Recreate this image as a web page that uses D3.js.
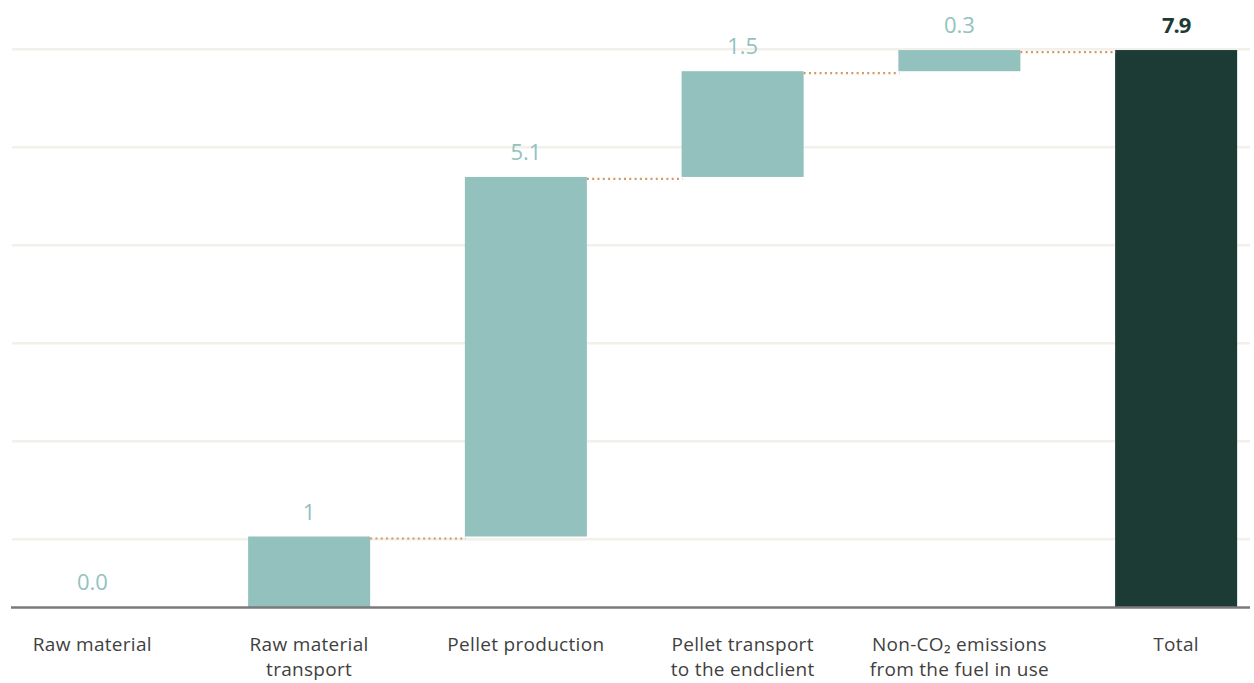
<!DOCTYPE html>
<html>
<head>
<meta charset="utf-8">
<script src="https://cdn.jsdelivr.net/npm/d3@7"></script>
<style>
  body { margin: 0; background: #fff; }
  svg { display: block; }
</style>
</head>
<body>
<svg id="chart" width="1254" height="683"></svg>
<script>
// Waterfall of emission contributions along the pellet supply chain
const categories = [
  "Raw material",
  "Raw material transport",
  "Pellet production",
  "Pellet transport to the endclient",
  "Non-CO₂ emissions from the fuel in use",
  "Total"
];
const categoryLines = [
  ["Raw material"],
  ["Raw material", "transport"],
  ["Pellet production"],
  ["Pellet transport", "to the endclient"],
  ["Non-CO₂ emissions", "from the fuel in use"],
  ["Total"]
];
const steps = [0.0, 1, 5.1, 1.5, 0.3];
const total = 7.9;
const valueLabels = ["0.0", "1", "5.1", "1.5", "0.3", "7.9"];
const gridValues = [0.96, 2.35, 3.74, 5.13, 6.52, 7.91];

const stepColor = "#93c2be";
const totalColor = "#1c3b35";
const fontFamily = "'Open Sans', 'Noto Sans', sans-serif";

const svg = d3.select("#chart");

const x = d3.scaleBand()
  .domain(categories)
  .range([-16, 1284.5])
  .paddingInner(0.437)
  .paddingOuter(0.2185);

const y = d3.scaleLinear()
  .domain([0, 8])
  .range([607, 43]);

// running totals: start and end of each floating bar
const ends = d3.cumsum(steps);
const bars = steps.map((v, i) => ({
  cat: categories[i],
  start: i === 0 ? 0 : ends[i - 1],
  end: ends[i],
  label: valueLabels[i],
  isTotal: false
}));
bars.push({ cat: categories[5], start: 0, end: total, label: valueLabels[5], isTotal: true });

// horizontal gridlines
svg.append("g")
  .selectAll("line")
  .data(gridValues)
  .join("line")
  .attr("x1", 12)
  .attr("x2", 1250)
  .attr("y1", d => y(d))
  .attr("y2", d => y(d))
  .attr("stroke", "#f3efea")
  .attr("stroke-width", 2.5);

// bars
svg.append("g")
  .selectAll("rect")
  .data(bars)
  .join("rect")
  .attr("x", d => x(d.cat))
  .attr("width", x.bandwidth())
  .attr("y", d => y(Math.max(d.start, d.end)))
  .attr("height", d => Math.abs(y(d.start) - y(d.end)))
  .attr("fill", d => d.isTotal ? totalColor : stepColor);

// dotted connectors between consecutive bars
const links = bars.slice(1, -1).map((b, i) => ({ from: b.cat, to: bars[i + 2].cat, level: b.end }));
svg.append("g")
  .selectAll("line")
  .data(links)
  .join("line")
  .attr("x1", d => x(d.from) + x.bandwidth())
  .attr("x2", d => x(d.to) + 1)
  .attr("y1", d => y(d.level) + 2)
  .attr("y2", d => y(d.level) + 2)
  .attr("stroke", "#cf9a66")
  .attr("stroke-width", 2.2)
  .attr("stroke-dasharray", "2 3.3");

// zero baseline
svg.append("line")
  .attr("x1", 11)
  .attr("x2", 1250)
  .attr("y1", y(0) + 0.5)
  .attr("y2", y(0) + 0.5)
  .attr("stroke", "#7a7a7a")
  .attr("stroke-width", 2.5);

// value labels above bars
svg.append("g")
  .selectAll("text")
  .data(bars)
  .join("text")
  .attr("x", d => x(d.cat) + x.bandwidth() / 2)
  .attr("y", d => y(Math.max(d.start, d.end)) - 17)
  .attr("text-anchor", "middle")
  .attr("font-family", fontFamily)
  .attr("font-size", 22)
  .attr("font-weight", d => d.isTotal ? 700 : 400)
  .attr("letter-spacing", d => d.isTotal ? -1 : 0)
  .attr("fill", d => d.isTotal ? totalColor : stepColor)
  .text(d => d.label);

// category labels under the axis
const xLabels = svg.append("g")
  .selectAll("text")
  .data(categories)
  .join("text")
  .attr("x", d => x(d) + x.bandwidth() / 2)
  .attr("y", 651)
  .attr("text-anchor", "middle")
  .attr("font-family", fontFamily)
  .attr("font-size", 19)
  .attr("letter-spacing", 0.3)
  .attr("fill", "#3f3f3f");

xLabels.selectAll("tspan")
  .data((d, i) => categoryLines[i])
  .join("tspan")
  .attr("x", function () { return d3.select(this.parentNode).attr("x"); })
  .attr("dy", (d, i) => i === 0 ? 0 : 25)
  .text(d => d);
</script>
</body>
</html>
